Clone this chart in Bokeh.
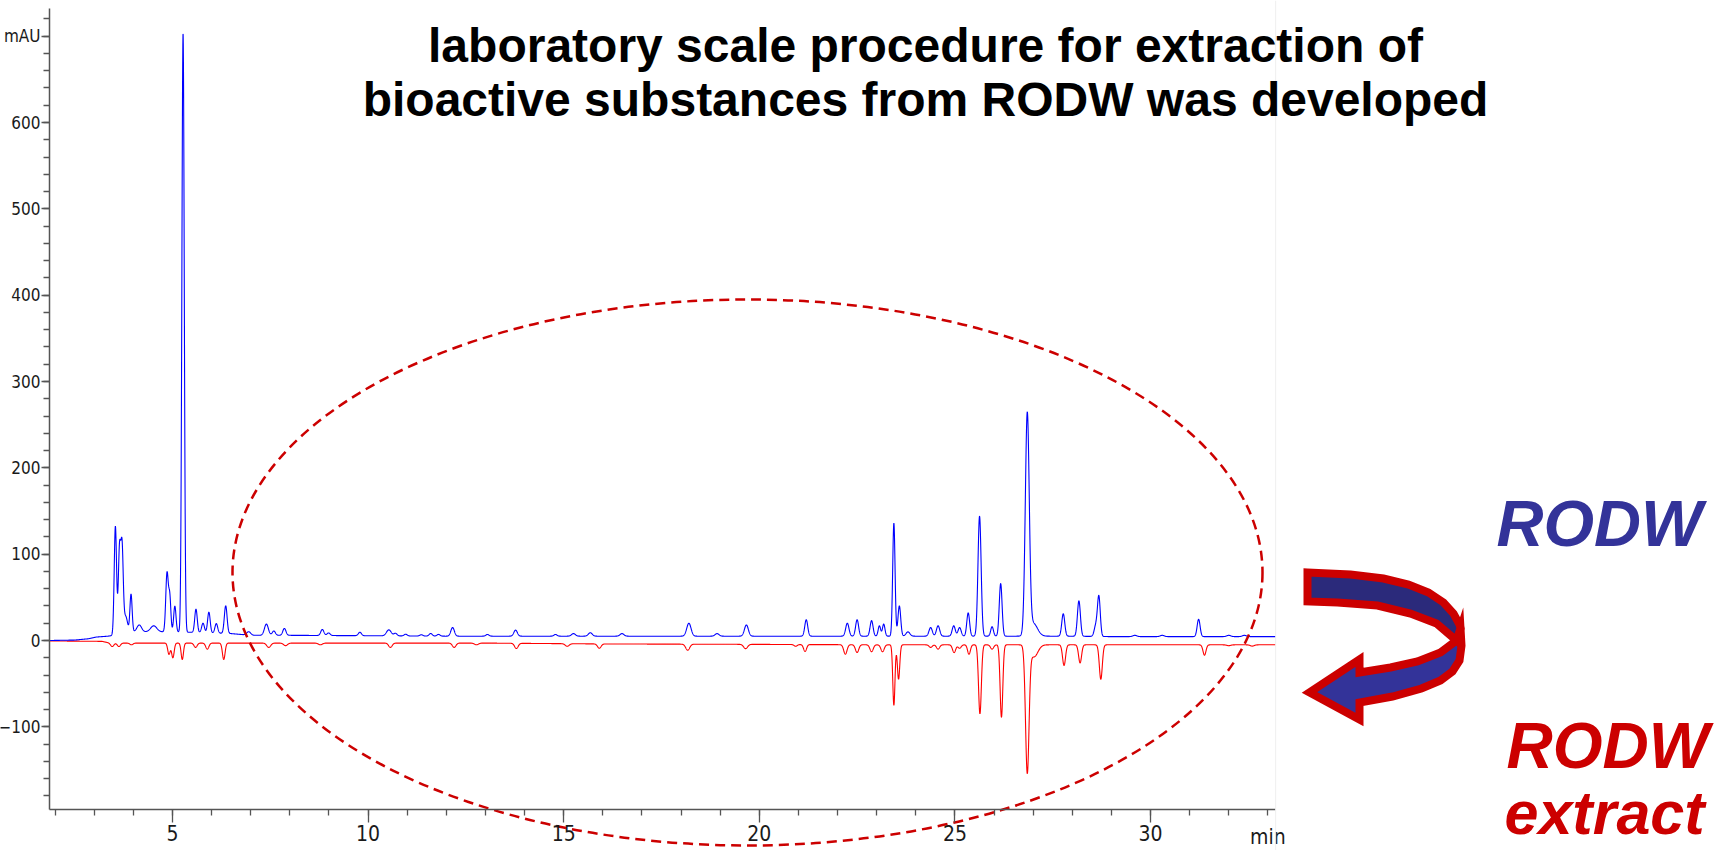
import numpy as np
from bokeh.plotting import figure
from bokeh.models import Range1d, FixedTicker, Label, Span
from bokeh.embed import file_html
from bokeh.resources import INLINE

# ------------------------------------------------------------------
# Data (time in min, signal in mAU)
# ------------------------------------------------------------------
# RODW (blue) - baseline read points
blue_base_time = [1.856, 2.5, 2.85, 3.05, 3.35, 3.8, 4.0, 4.8, 5.5, 6.5, 7.0, 8.0, 10.0, 12.0, 15.0, 20.0, 23.0, 25.0, 28.0, 29.0, 33.2]
blue_base_level = [0.0, 0.5, 2.0, 4.0, 5.0, 8.0, 10.0, 10.0, 9.5, 8.0, 6.0, 6.0, 5.5, 5.0, 5.0, 5.0, 5.0, 5.0, 5.0, 4.5, 4.5]
# RODW (blue) - peaks: retention time, height above baseline, width (sigma)
blue_peak_time = [3.54, 3.645, 3.71, 3.80, 3.94, 4.15, 4.52, 4.86, 4.93, 5.06, 5.27, 5.60, 5.78, 5.93, 6.12, 6.36,
                  6.95, 7.40, 7.59, 7.86, 8.83, 8.99, 9.79, 10.53, 10.70, 10.96, 11.36, 11.60, 11.80, 12.16, 13.05,
                  13.77, 14.79, 15.25, 15.68, 16.49, 18.20, 18.92, 19.67, 21.20, 22.25, 22.50, 22.87, 23.07, 23.18,
                  23.44, 23.58, 23.80, 24.38, 24.57, 24.97, 25.12, 25.34, 25.63, 25.95, 26.17, 26.85, 27.00, 27.77,
                  28.17, 28.60, 28.68, 29.60, 30.30, 31.23, 32.00, 32.40]
blue_peak_height = [126, 97, 97, 20, 44, 8, 7, 68, 40, 30, 694, 27, 11, 24, 11, 32,
                    4, 13, 5, 8, 7, 3, 4, 7, 3, 2, 1.5, 3, 2, 10, 2,
                    7, 2, 3, 4, 3, 15, 3, 13, 19, 15, 19, 18, 12, 14,
                    131, 35, 5, 10, 12, 12, 10, 27, 139, 11, 61, 254, 15, 26,
                    41, 12, 46, 1.5, 1.5, 20, 1.5, 1.5]
blue_peak_width = [0.03, 0.03, 0.03, 0.05, 0.028, 0.06, 0.08, 0.032, 0.028, 0.03, 0.03, 0.032, 0.035, 0.033, 0.035, 0.035,
                   0.05, 0.05, 0.04, 0.04, 0.04, 0.04, 0.04, 0.06, 0.04, 0.04, 0.04, 0.04, 0.04, 0.045, 0.04,
                   0.045, 0.04, 0.05, 0.05, 0.05, 0.055, 0.05, 0.05, 0.038, 0.042, 0.038, 0.038, 0.032, 0.032,
                   0.03, 0.035, 0.05, 0.042, 0.042, 0.04, 0.04, 0.036, 0.04, 0.035, 0.036, 0.05, 0.11, 0.038,
                   0.038, 0.04, 0.036, 0.05, 0.05, 0.038, 0.05, 0.05]

# RODW extract (red, drawn inverted) - baseline read points
red_base_time = [1.856, 3.2, 3.4, 4.0, 10.0, 13.0, 16.0, 20.0, 23.0, 25.0, 33.2]
red_base_level = [-0.5, -1.0, -3.0, -3.0, -3.0, -3.0, -4.0, -4.5, -5.0, -5.0, -5.0]
# RODW extract (red) - peaks
red_peak_time = [3.46, 3.63, 3.95, 4.91, 5.01, 5.25, 5.59, 5.89, 6.31, 7.46, 7.89, 8.78, 10.57, 12.20, 12.77,
                 13.79, 15.09, 15.91, 18.17, 19.65, 20.93, 21.17, 22.20, 22.50, 22.87, 23.15, 23.44, 23.56,
                 24.38, 24.57, 24.98, 25.12, 25.36, 25.64, 25.95, 26.19, 26.85, 27.02, 27.79, 28.20, 28.73,
                 31.38, 32.00, 32.60]
red_peak_height = [-4, -4, -2, -13, -17, -19, -5, -7, -19, -5, -3, -2, -5, -5, -2,
                   -6, -3, -5, -7, -5, -2, -8, -11, -9, -8, -8, -70, -40,
                   -3, -5, -9, -4, -11, -80, -5, -84, -146, -14, -24, -21, -40,
                   -12, -1, -1.5]
red_peak_width = [0.04, 0.04, 0.04, 0.032, 0.032, 0.03, 0.04, 0.04, 0.034, 0.05, 0.05, 0.05, 0.045, 0.045, 0.05,
                  0.045, 0.05, 0.045, 0.05, 0.05, 0.04, 0.038, 0.042, 0.042, 0.042, 0.042, 0.028, 0.03,
                  0.04, 0.04, 0.04, 0.04, 0.036, 0.036, 0.04, 0.034, 0.045, 0.1, 0.038, 0.038, 0.038,
                  0.038, 0.05, 0.05]

# Axes
time_start, time_end = 1.856, 33.2
signal_bottom, signal_top = -195.8, 732.0
x_major_ticks = [5, 10, 15, 20, 25, 30]
x_minor_ticks = list(range(2, 34))
y_major_ticks = [-100, 0, 100, 200, 300, 400, 500, 600, 700]
y_minor_ticks = list(range(-180, 740, 20))
y_label_overrides = {700: "mAU"}
x_unit_label = "min"

# Texts
title_lines = ["laboratory scale procedure for extraction of",
               "bioactive substances from RODW was developed"]
sample_label = "RODW"
extract_label = ["RODW", "extract"]

# ------------------------------------------------------------------
# Page geometry (screen pixel <-> data mapping)
# ------------------------------------------------------------------
W, H = 1735, 850
MARGIN = 0
PX_PER_MIN = 39.12
PX_T0 = -23.6
PX_PER_MAU = 0.8633
PX_V0 = 640.0


def dx(px):
    return (px - PX_T0) / PX_PER_MIN


def dy(py):
    return (PX_V0 - py) / PX_PER_MAU


t = np.arange(time_start, time_end + 1e-9, 0.004)


def build_trace(bt, bv, pt, ph, pw):
    y = np.interp(t, bt, bv)
    for c, h, s in zip(pt, ph, pw):
        y = y + h * np.exp(-0.5 * ((t - c) / s) ** 2)
    return y


blue = build_trace(blue_base_time, blue_base_level, blue_peak_time, blue_peak_height, blue_peak_width)
red = build_trace(red_base_time, red_base_level, red_peak_time, red_peak_height, red_peak_width)

p = figure(width=W, height=H,
           x_range=Range1d(dx(MARGIN), dx(MARGIN + W)),
           y_range=Range1d(dy(MARGIN + H), dy(MARGIN)),
           output_backend="svg", toolbar_location=None,
           min_border=0, outline_line_color=None)
p.min_border_left = 0
p.min_border_right = 0
p.min_border_top = 0
p.min_border_bottom = 0
p.grid.visible = False
p.background_fill_color = "white"
p.border_fill_color = "white"

NARROW = "Liberation Sans Narrow, DejaVu Sans Condensed, Liberation Sans"

xa = p.xaxis[0]
xa.fixed_location = signal_bottom
xa.bounds = (time_start, time_end)
xa.ticker = FixedTicker(ticks=x_major_ticks, minor_ticks=x_minor_ticks)
xa.axis_line_color = "#555555"
xa.axis_line_width = 1.5
xa.major_tick_line_color = "#555555"
xa.minor_tick_line_color = "#555555"
xa.major_tick_line_width = 1.3
xa.minor_tick_line_width = 1.3
xa.major_tick_in = 0
xa.major_tick_out = 13
xa.minor_tick_in = 0
xa.minor_tick_out = 6
xa.major_label_standoff = 2
xa.major_label_text_font = NARROW
xa.major_label_text_font_size = "21px"
xa.major_label_text_color = "#1a1a1a"

ya = p.yaxis[0]
ya.fixed_location = time_start
ya.bounds = (signal_bottom, signal_top)
ya.ticker = FixedTicker(ticks=y_major_ticks, minor_ticks=y_minor_ticks)
ya.major_label_overrides = y_label_overrides
ya.axis_line_color = "#555555"
ya.axis_line_width = 1.5
ya.major_tick_line_color = "#555555"
ya.minor_tick_line_color = "#555555"
ya.major_tick_line_width = 1.3
ya.minor_tick_line_width = 1.3
ya.major_tick_in = 0
ya.major_tick_out = 8
ya.minor_tick_in = 0
ya.minor_tick_out = 6
ya.major_label_standoff = 1
ya.major_label_text_font = NARROW
ya.major_label_text_font_size = "17px"
ya.major_label_text_color = "#1a1a1a"

p.add_layout(Label(x=33, y=dy(824), text=x_unit_label, text_align="center", text_baseline="top",
                   text_font=NARROW, text_font_size="21px", text_color="#1a1a1a"))

# faint edge line of the cropped chromatogram image
p.add_layout(Span(location=time_end, dimension="height", line_color="#efefef", line_width=1))

# traces
p.line(t, red, line_color="#ff0000", line_width=1.1)
p.line(t, blue, line_color="#0000ff", line_width=1.1)

# dashed ellipse highlighting the region of interest
p.ellipse(x=[dx(747)], y=[dy(572)], width=[1030 / PX_PER_MIN], height=[546 / PX_PER_MAU],
          fill_color=None, line_color="#cc0000", line_width=2.5, line_dash="10 6")

# title (kept fully inside the canvas)
p.add_layout(Label(x=dx(925), y=dy(45), text=title_lines[0], text_align="center", text_baseline="alphabetic",
                   text_font="Liberation Sans", text_font_style="bold", text_font_size="48px", text_color="black"))
p.add_layout(Label(x=dx(925), y=dy(99), text=title_lines[1], text_align="center", text_baseline="alphabetic",
                   text_font="Liberation Sans", text_font_style="bold", text_font_size="48px", text_color="black"))

# labels on the right
p.add_layout(Label(x=dx(1496), y=dy(523), text=sample_label, text_align="left", text_baseline="alphabetic",
                   text_font="Liberation Sans", text_font_style="bold italic", text_font_size="65px",
                   text_color="#333399"))
p.add_layout(Label(x=dx(1506), y=dy(745), text=extract_label[0], text_align="left", text_baseline="alphabetic",
                   text_font="Liberation Sans", text_font_style="bold italic", text_font_size="64px",
                   text_color="#cc0000"))
p.add_layout(Label(x=dx(1504), y=dy(812), text=extract_label[1], text_align="left", text_baseline="alphabetic",
                   text_font="Liberation Sans", text_font_style="bold italic", text_font_size="61px",
                   text_color="#cc0000"))

# curved U-turn arrow (decoration, defined in page pixels)
lower_band_px = [(1460, 628), (1461, 645), (1459, 660), (1452, 671), (1440, 680), (1421, 688), (1392, 696),
                 (1359, 702), (1359, 719), (1309, 692), (1359, 659), (1359, 672), (1390, 667), (1417, 661),
                 (1440, 652), (1456, 640)]
top_band_px = [(1307, 572), (1350, 574), (1383, 578), (1408, 584), (1428, 592), (1443, 602), (1453, 613),
               (1459, 624), (1460, 628), (1456, 640), (1436, 623), (1410, 613), (1377, 605), (1337, 602),
               (1307, 601)]
p.patch([dx(a) for a, b in lower_band_px], [dy(b) for a, b in lower_band_px],
        fill_color="#333399", line_color="#cc0000", line_width=8, line_join="miter")
p.patch([dx(a) for a, b in top_band_px], [dy(b) for a, b in top_band_px],
        fill_color="#2b2a7b", line_color="#cc0000", line_width=8, line_join="miter")

open("out.html", "w").write(file_html(p, INLINE))
